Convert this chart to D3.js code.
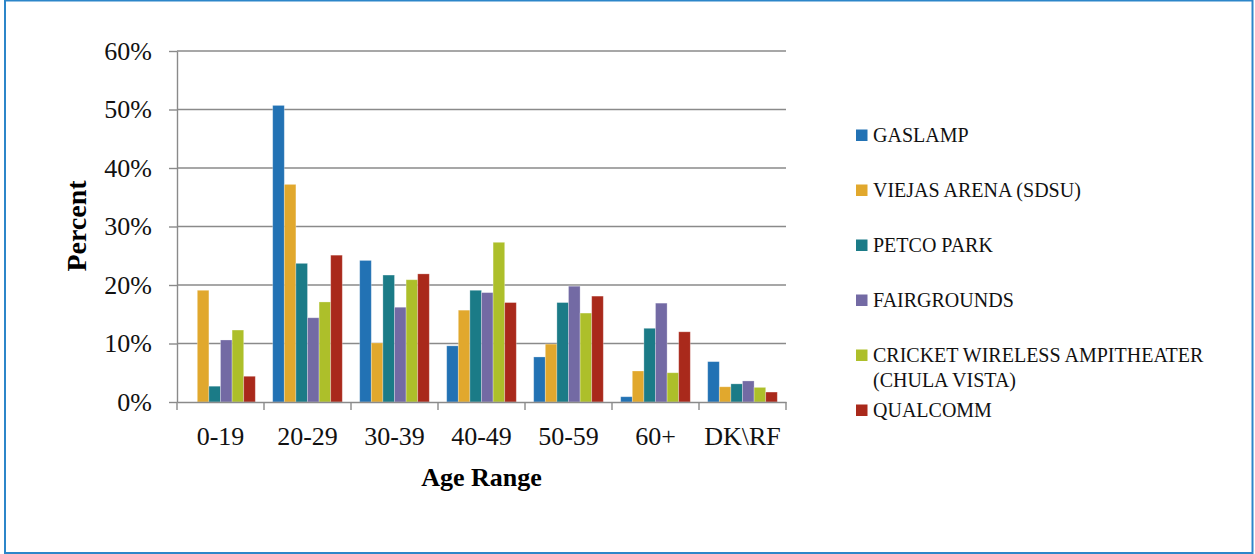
<!DOCTYPE html>
<html>
<head>
<meta charset="utf-8">
<script src="https://cdn.jsdelivr.net/npm/d3@7"></script>
<style>
  body { margin: 0; background: #fff; }
  svg { display: block; font-family: "Liberation Serif", "DejaVu Serif", serif; }
</style>
</head>
<body>
<script>

// Data (percent of respondents per age range)
var ageRanges = ['0-19', '20-29', '30-39', '40-49', '50-59', '60+', 'DK\\RF']
var venues = ['GASLAMP', 'VIEJAS ARENA (SDSU)', 'PETCO PARK', 'FAIRGROUNDS',
  'CRICKET WIRELESS AMPITHEATER (CHULA VISTA)', 'QUALCOMM']
var colors = ['#2272b4', '#e1a82d', '#1b7b87', '#736aa4', '#adbf2a', '#a9291b']

var gaslamp     = [0, 50.7, 24.2, 9.6, 7.7, 0.9, 6.9]
var viejas      = [19.1, 37.2, 10.1, 15.7, 9.9, 5.3, 2.6]
var petco       = [2.7, 23.7, 21.7, 19.1, 17.0, 12.6, 3.1]
var fairgrounds = [10.6, 14.4, 16.2, 18.7, 19.8, 16.9, 3.6]
var cricket     = [12.3, 17.1, 20.9, 27.3, 15.2, 5.0, 2.5]
var qualcomm    = [4.4, 25.1, 21.9, 17.0, 18.1, 12.0, 1.7]

var yTicks = [0, 10, 20, 30, 40, 50, 60]

var seriesValues = [gaslamp, viejas, petco, fairgrounds, cricket, qualcomm]

// Set the dimensions of the canvas / graph
var W = 1255, H = 554
var margin = {top: 51, left: 177},
  width = 609,
  height = 351

var svg = d3.select('body').append('svg')
  .attr('width', W)
  .attr('height', H)

// outer frame
svg.append('rect')
  .attr('x', 5).attr('y', 0.5)
  .attr('width', 1247.5).attr('height', 552.5)
  .attr('fill', 'none')
  .attr('stroke', '#2c86c9')
  .attr('stroke-width', 2)

var g = svg.append('g')
  .attr('transform', 'translate(' + margin.left + ',' + margin.top + ')')

// Set the ranges
var x0 = d3.scaleBand().domain(ageRanges).range([0, width])
var x1 = d3.scaleBand().domain(venues).range([0, x0.bandwidth()]).paddingOuter(0.75)
var y = d3.scaleLinear().domain([0, 60]).range([height, 0])

// gridlines
g.append('g').selectAll('line')
  .data(yTicks.slice(1))
  .enter().append('line')
  .attr('x1', 0).attr('x2', width)
  .attr('y1', function(d) { return y(d) })
  .attr('y2', function(d) { return y(d) })
  .attr('stroke', '#8a8a8a')
  .attr('stroke-width', 1.4)

// bars
var groups = g.append('g').selectAll('g')
  .data(ageRanges)
  .enter().append('g')
  .attr('transform', function(d) { return 'translate(' + x0(d) + ',0)' })

groups.selectAll('rect')
  .data(function(d, i) {
    return venues.map(function(v, j) { return {venue: v, value: seriesValues[j][i], color: colors[j]} })
  })
  .enter().append('rect')
  .attr('x', function(d) { return x1(d.venue) })
  .attr('width', x1.bandwidth())
  .attr('y', function(d) { return y(d.value) })
  .attr('height', function(d) { return height - y(d.value) })
  .attr('fill', function(d) { return d.color })
  .attr('stroke', '#ffffff')
  .attr('stroke-opacity', 0.35)
  .attr('stroke-width', 0.8)

// Y axis
var yAxis = d3.axisLeft(y).tickValues(yTicks)
  .tickFormat(function(d) { return d + '%' })
  .tickSizeInner(8).tickSizeOuter(0).tickPadding(17)

var yG = g.append('g').call(yAxis)
  .attr('font-family', null).attr('font-size', 26)
yG.select('.domain').attr('stroke', '#8a8a8a').attr('stroke-width', 1.4)
yG.selectAll('.tick line').attr('stroke', '#8a8a8a').attr('stroke-width', 1.4)
yG.selectAll('text').attr('fill', '#111')

// X axis
var xAxis = d3.axisBottom(x0).tickSize(0).tickPadding(25)
var xG = g.append('g')
  .attr('transform', 'translate(0,' + height + ')')
  .call(xAxis)
  .attr('font-family', null).attr('font-size', 26)
xG.select('.domain').attr('stroke', '#8a8a8a').attr('stroke-width', 1.4)
xG.selectAll('text').attr('fill', '#111')

// category separator ticks
xG.append('g').selectAll('line')
  .data(ageRanges.concat(['end']))
  .enter().append('line')
  .attr('x1', function(d, i) { return i * x0.step() })
  .attr('x2', function(d, i) { return i * x0.step() })
  .attr('y1', 0).attr('y2', 8)
  .attr('stroke', '#8a8a8a')
  .attr('stroke-width', 1.4)

// axis titles
svg.append('text')
  .attr('x', margin.left + width / 2).attr('y', 486)
  .attr('text-anchor', 'middle')
  .attr('font-size', 26).attr('font-weight', 'bold')
  .text('Age Range')

svg.append('text')
  .attr('transform', 'translate(86,226) rotate(-90)')
  .attr('text-anchor', 'middle')
  .attr('font-size', 28).attr('font-weight', 'bold')
  .text('Percent')

// Legend
var legend = svg.append('g').attr('transform', 'translate(856,135)')

var items = legend.selectAll('g')
  .data(venues)
  .enter().append('g')
  .attr('transform', function(d, i) { return 'translate(0,' + (i * 55) + ')' })

items.append('rect')
  .attr('x', 0).attr('y', -5.5)
  .attr('width', 11.5).attr('height', 11.5)
  .attr('fill', function(d, i) { return colors[i] })

items.append('text')
  .attr('x', 17).attr('y', 7)
  .attr('font-size', 20)
  .attr('fill', '#111')
  .each(function(d) {
    // wrap long names onto a second line
    var el = d3.select(this), words = d.split(' '), line = []
    var tspan = el.append('tspan').attr('x', 17)
    words.forEach(function(w) {
      line.push(w)
      tspan.text(line.join(' '))
      if (tspan.node().getComputedTextLength() > 345 && line.length > 1) {
        line.pop()
        tspan.text(line.join(' '))
        line = [w]
        tspan = el.append('tspan').attr('x', 17).attr('dy', 25).text(w)
      }
    })
  })

</script>
</body>
</html>
